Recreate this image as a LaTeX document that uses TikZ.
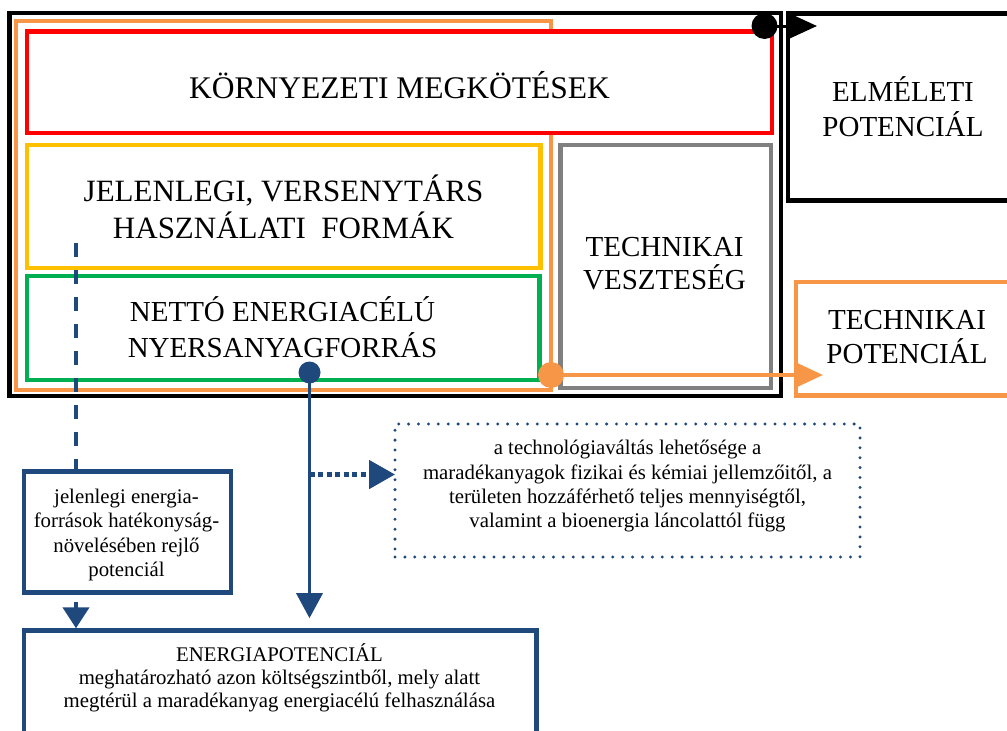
\documentclass[tikz,border=0pt]{standalone}
\usepackage{fontspec}
\setmainfont{Liberation Serif}
\usetikzlibrary{arrows.meta}
\definecolor{cblue}{RGB}{31,73,125}
\definecolor{corange}{RGB}{247,150,70}
\definecolor{cred}{RGB}{255,0,0}
\definecolor{cyellow}{RGB}{255,192,0}
\definecolor{cgreen}{RGB}{0,176,80}
\definecolor{cgray}{RGB}{128,128,128}
\begin{document}
\begin{tikzpicture}[x=1pt,y=-1pt,
  box/.style={draw, rectangle, line width=4.5pt, inner sep=0pt, outer sep=0pt},
  bluebox/.style={box, draw=cblue},
  dotbox/.style={draw=cblue, rectangle, line width=3.3pt, line cap=round, dash pattern=on 0pt off 9.9pt, inner sep=0pt, outer sep=0pt},
  txt/.style={align=center, inner sep=0pt, text depth=0pt, anchor=south},
  bigtxt/.style={txt, font=\fontsize{29}{34.5}\selectfont},
  smalltxt/.style={txt, font=\fontsize{20.8}{24.5}\selectfont},
  dotmark/.style={circle, inner sep=0pt, outer sep=0pt},
  blueline/.style={cblue, line width=3.5pt},
  bluedash/.style={cblue, line width=4pt, dash pattern=on 14pt off 13pt},
  bluedots/.style={cblue, line width=5pt, dash pattern=on 5pt off 3.5pt}
]
\useasboundingbox (0,0) rectangle (1007,731);
\clip (0,0) rectangle (1007,731);

% frames
\node[box, draw=black, minimum width=771.5pt, minimum height=383pt] (frame) at (395.25,204.5) {};
\node[box, draw=corange, minimum width=535pt, minimum height=369pt] (tframe) at (283.5,205.5) {};

% environmental constraints
\node[box, draw=cred, fill=white, minimum width=745pt, minimum height=101.5pt] (env) at (399.5,82.25) {};
\node[txt, font=\fontsize{31.5}{36}\selectfont] (envt) at (399.5,98.3) {KÖRNYEZETI MEGKÖTÉSEK};

% competing uses
\node[box, draw=cyellow, minimum width=513.5pt, minimum height=123pt] (comp) at (283.75,206.5) {};
\node[txt, font=\fontsize{31}{36.6}\selectfont] (compt) at (283.5,238.3) {JELENLEGI, VERSENYTÁRS\\HASZNÁLATI\ \ FORMÁK};

% net resource
\node[box, draw=cgreen, minimum width=512.5pt, minimum height=104pt] (net) at (283.25,328) {};
\node[bigtxt, font=\fontsize{29}{35.6}\selectfont] (nett) at (282.5,357.3) {NETTÓ ENERGIACÉLÚ\\NYERSANYAGFORRÁS};

% technical loss
\node[box, draw=cgray, minimum width=210.5pt, minimum height=243pt] (loss) at (665.75,266.5) {};
\node[bigtxt, font=\fontsize{29}{33}\selectfont] (losst) at (664.5,289.5) {TECHNIKAI\\VESZTESÉG};

% theoretical potential
\node[box, draw=black, minimum width=227pt, minimum height=187pt] (elm) at (901.5,107) {};
\node[bigtxt] (elmt) at (903,136.3) {ELMÉLETI\\POTENCIÁL};

% technical potential
\node[box, draw=corange, minimum width=219pt, minimum height=113.5pt] (tpot) at (905.5,338.75) {};
\node[bigtxt] (tpott) at (907,364) {TECHNIKAI\\POTENCIÁL};

% blue boxes
\node[bluebox, minimum width=207pt, minimum height=121pt] (jel) at (127.5,532) {};
\node[smalltxt] (jelt) at (126.5,577) {jelenlegi energia-\\források hatékonyság-\\növelésében rejlő\\potenciál};

\node[dotbox, minimum width=465pt, minimum height=133pt] (tech) at (627.5,490.5) {};
\node[smalltxt, font=\fontsize{20.8}{24.3}\selectfont] (techt) at (627.5,528) {a technológiaváltás lehetősége a\\maradékanyagok fizikai és kémiai jellemzőitől, a\\területen hozzáférhető teljes mennyiségtől,\\valamint a bioenergia láncolattól függ};

\node[bluebox, minimum width=512.5pt, minimum height=230pt] (ep) at (280.25,745.5) {};
\node[smalltxt, font=\fontsize{20.8}{23.1}\selectfont] (ept) at (279.5,708) {ENERGIAPOTENCIÁL\\meghatározható azon költségszintből, mely alatt\\megtérül a maradékanyag energiacélú felhasználása};

% connectors: black
\node[dotmark, fill=black, minimum size=26pt] (bdot) at (764.5,26) {};
\coordinate (etip) at (817,26);
\draw[black, line width=3pt, -{Triangle[length=27pt,width=24pt]}] (bdot.center) -- (etip);

% connectors: orange
\node[dotmark, fill=corange, minimum size=26pt] (odot) at (551,375) {};
\coordinate (otip) at (823,375);
\draw[corange, line width=4pt, -{Triangle[length=28pt,width=25pt]}] (odot.center) -- (otip);

% connectors: blue
\coordinate (dstart) at (76,243);
\draw[bluedash] (dstart) -- (dstart |- jel.north);
\draw[bluedash, shorten <=9.2pt, shorten >=2.2pt, -{Triangle[length=21pt,width=26pt]}] (dstart |- jel.south) -- (dstart |- ep.north);

\node[dotmark, fill=cblue, minimum size=22pt] (bldot) at (309.5,372.5) {};
\draw[blueline, shorten >=12.3pt, -{Triangle[length=25pt,width=26pt]}] (bldot.center) -- (bldot |- ep.north);
\coordinate (branch) at (309.5,474.5);
\draw[bluedots, -{Triangle[length=26pt,width=28pt]}] (branch) -- (branch -| tech.west);
\end{tikzpicture}
\end{document}
